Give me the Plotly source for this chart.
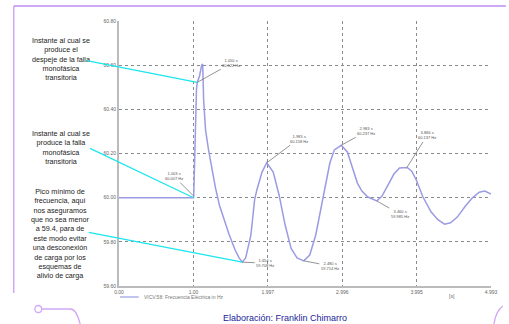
import plotly.graph_objects as go

# ---------------- data ----------------
time_s = [0.0, 1.000, 1.003, 1.02, 1.04, 1.05, 1.08, 1.11, 1.123, 1.136, 1.162, 1.202, 1.242,
          1.295, 1.347, 1.413, 1.480, 1.559, 1.612, 1.654, 1.70, 1.77, 1.82, 1.85, 1.92, 1.983,
          2.07, 2.15, 2.23, 2.31, 2.39, 2.480, 2.56, 2.64, 2.72, 2.79, 2.83, 2.89, 2.983, 3.065,
          3.13, 3.20, 3.26, 3.34, 3.460, 3.53, 3.61, 3.69, 3.765, 3.866, 3.93, 3.99, 4.08, 4.19,
          4.28, 4.37, 4.45, 4.54, 4.65, 4.74, 4.835, 4.91, 4.993]
freq_hz = [60.0, 60.0, 60.007, 60.30, 60.49, 60.522, 60.55, 60.60, 60.605, 60.442, 60.306, 60.216,
           60.134, 60.044, 59.967, 59.899, 59.831, 59.763, 59.727, 59.708, 59.727, 59.83, 59.99,
           60.035, 60.116, 60.158, 60.116, 60.01, 59.876, 59.77, 59.727, 59.714, 59.74, 59.83,
           59.967, 60.08, 60.157, 60.216, 60.237, 60.207, 60.134, 60.066, 60.03, 60.003, 59.985,
           60.007, 60.057, 60.107, 60.134, 60.137, 60.12, 60.08, 60.003, 59.935, 59.90, 59.88,
           59.886, 59.912, 59.962, 59.998, 60.025, 60.03, 60.016]

x_tick_vals = [0.0, 1.0, 1.997, 2.996, 3.995, 4.993]
x_tick_text = ["0.00", "1.00", "1.997", "2.996", "3.995", "4.993"]
y_tick_vals = [59.6, 59.8, 60.0, 60.2, 60.4, 60.6, 60.8]
y_tick_text = ["59.60", "59.80", "60.00", "60.20", "60.40", "60.60", "60.80"]

# point labels (time, frequency)
mark_t = [1.050, 1.003, 1.654, 1.983, 2.480, 2.983, 3.460, 3.866]
mark_f = [60.522, 60.007, 59.708, 60.158, 59.714, 60.237, 59.985, 60.137]
mark_ax = [34, -20, 23, 32, 26, 25, 23, 20]
mark_ay = [-19, -20, 1, -24, 5, -14, 13, -32]

# side notes: text and the curve point each one refers to
note_text = [
    "Instante al cual se<br>produce el<br>despeje de la falla<br>monofásica<br>transitoria",
    "Instante al cual se<br>produce la falla<br>monofásica<br>transitoria",
    "Pico mínimo de<br>frecuencia, aquí<br>nos aseguramos<br>que no sea menor<br>a 59.4, para de<br>"
    "este modo evitar<br>una desconexión<br>de carga por los<br>esquemas de<br>alivio de carga",
]
note_t = [1.050, 1.000, 1.654]
note_f = [60.522, 60.000, 59.708]
note_px = [(-0.156, 0.855), (-0.156, 0.522), (-0.156, 0.197)]   # text centre (paper)
note_line = [(-112, -22), (-105, -50), (-155, -30)]               # line start offset (px)

series_name = "VICV.58: Frecuencia Eléctrica in Hz"
credit = "Elaboración: Franklin Chimarro"

# ---------------- figure ----------------
fig = go.Figure()
fig.add_trace(go.Scatter(x=time_s, y=freq_hz, mode="lines", name=series_name,
                         line=dict(color="#9b9be4", width=1.5), showlegend=False))

ann = []
for t, f, ax, ay in zip(mark_t, mark_f, mark_ax, mark_ay):
    ann.append(dict(x=t, y=f, xref="x", yref="y", ax=ax, ay=ay,
                    text=f"{t:.3f} s<br>{f:.3f} Hz", showarrow=True, arrowhead=0,
                    arrowwidth=0.8, arrowcolor="#777", font=dict(size=4, color="#555"),
                    standoff=0))
for txt, (px, py) in zip(note_text, note_px):
    ann.append(dict(x=px, y=py, xref="paper", yref="paper", text=txt, showarrow=False,
                    xanchor="center", yanchor="middle", align="center",
                    font=dict(family="Liberation Sans, Arial", size=7.2, color="#222")))
for t, f, (ax, ay) in zip(note_t, note_f, note_line):
    ann.append(dict(x=t, y=f, xref="x", yref="y", ax=ax, ay=ay, text="", showarrow=True,
                    arrowhead=0, arrowwidth=1.2, arrowcolor="#19e6ee", standoff=0))
ann.append(dict(x=4.47, y=-0.018, xref="x", yref="paper", text="[s]", showarrow=False,
                yanchor="top", font=dict(size=5, color="#666")))
ann.append(dict(x=0.061, y=-0.0415, xref="paper", yref="paper", text=series_name,
                showarrow=False, xanchor="left", yanchor="middle",
                font=dict(size=5, color="#777")))
ann.append(dict(x=0.447, y=-0.12, xref="paper", yref="paper", text=credit, showarrow=False,
                xanchor="center", yanchor="middle",
                font=dict(family="Liberation Sans, Arial", size=9, color="#23239a")))

lav = "#cfa8f5"
shapes = [
    dict(type="line", xref="paper", yref="paper", x0=0.0026, x1=0.053, y0=-0.0415, y1=-0.0415,
         line=dict(color="#9b9be4", width=1.2)),
    dict(type="line", xref="paper", yref="paper", x0=-0.283, x1=1.04, y0=1.0566, y1=1.0566,
         line=dict(color=lav, width=2)),
    dict(type="line", xref="paper", yref="paper", x0=-0.283, x1=-0.283, y0=1.0566, y1=-0.026,
         line=dict(color=lav, width=1.5)),
    dict(type="circle", xref="paper", yref="paper", x0=-0.2262, x1=-0.2077, y0=-0.1, y1=-0.0736,
         line=dict(color=lav, width=1.3)),
    dict(type="path", xref="paper", yref="paper",
         path="M -0.2077,-0.0868 L -0.1296,-0.0868 Q -0.1138,-0.0868 -0.1032,-0.151",
         line=dict(color=lav, width=1.3)),
    dict(type="path", xref="paper", yref="paper",
         path="M 1.0317,-0.0755 Q 1.0132,-0.0943 1.0079,-0.1434",
         line=dict(color=lav, width=1.3)),
]

fig.update_layout(
    width=509, height=324,
    margin=dict(l=119, r=12, t=21, b=38),
    paper_bgcolor="white", plot_bgcolor="white",
    font=dict(family="Liberation Sans, Arial"),
    annotations=ann, shapes=shapes, showlegend=False,
    xaxis=dict(range=[0, 4.993], tickvals=x_tick_vals, ticktext=x_tick_text,
               showgrid=True, gridcolor="#8a8a8a", griddash="dot", gridwidth=1,
               showline=True, linecolor="#bbbbbb", linewidth=1.5, zeroline=False,
               ticks="", tickfont=dict(size=5, color="#666")),
    yaxis=dict(range=[59.6, 60.8], tickvals=y_tick_vals, ticktext=y_tick_text,
               showgrid=True, gridcolor="#8a8a8a", griddash="dot", gridwidth=1,
               showline=True, linecolor="#bbbbbb", linewidth=2, zeroline=False,
               ticks="", tickfont=dict(size=5, color="#666")),
)

fig.write_html("out.html", config={"displayModeBar": False},
               post_script="document.body.style.margin='0';document.body.style.overflow='hidden';")
